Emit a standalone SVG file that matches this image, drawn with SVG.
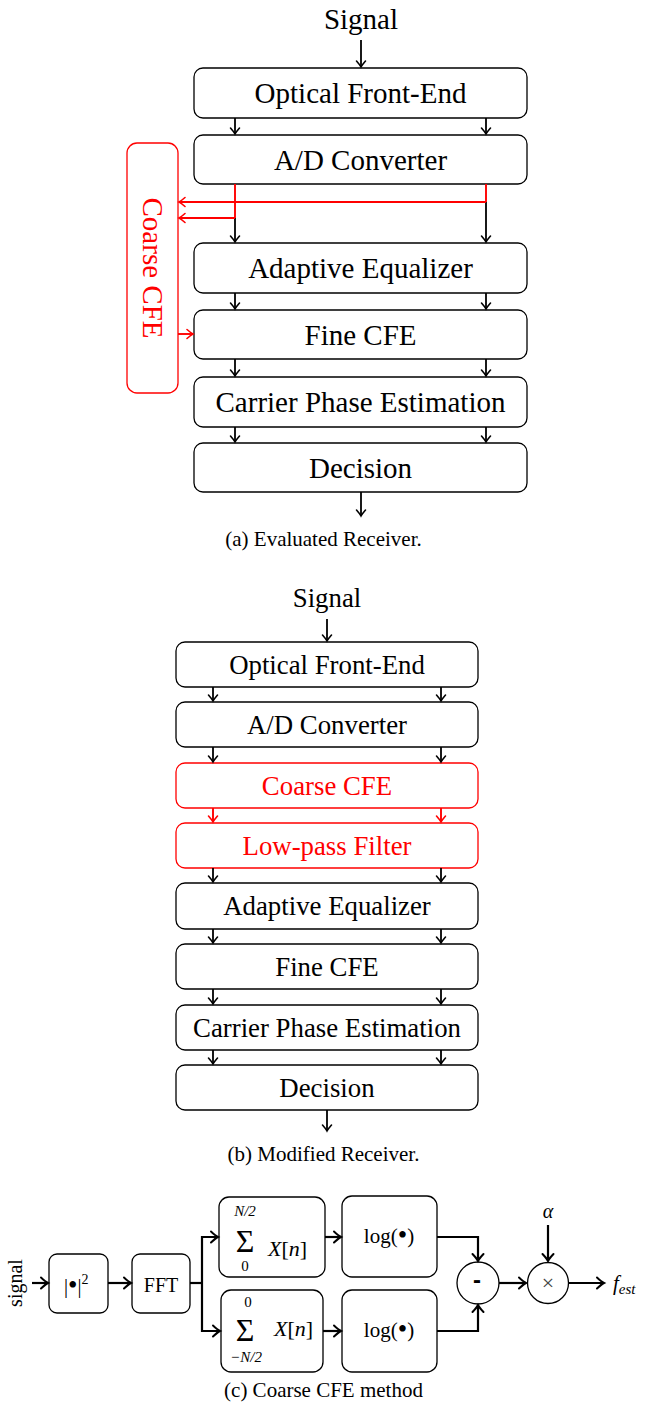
<svg xmlns="http://www.w3.org/2000/svg" width="645" height="1403" viewBox="0 0 645 1403">
<style>
  .bg { fill: #ffffff; }
  .box { fill: #ffffff; stroke: #000000; stroke-width: 1.3; }
  .rbox { fill: #ffffff; stroke: #ff0000; stroke-width: 1.3; }
  .lbl { font-family: "Liberation Serif", "Times New Roman", serif; fill: #000000; text-anchor: middle; }
  .la { font-size: 29px; }
  .lb { font-size: 26.8px; }
  .red { fill: #ff0000; }
  .cap { font-family: "Liberation Serif", "Times New Roman", serif; font-size: 21px; fill: #000000; text-anchor: middle; }
  .c { font-family: "Liberation Serif", "Times New Roman", serif; fill: #000000; }
  .it { font-style: italic; }
  .k { fill: none; stroke: #000000; stroke-width: 1.8; }
  .r { fill: none; stroke: #ff0000; stroke-width: 1.9; }
  .kc { fill: none; stroke: #000000; stroke-width: 2.2; }
</style>
<defs>
  <marker id="ak" markerUnits="userSpaceOnUse" markerWidth="14" markerHeight="14" refX="0" refY="0" viewBox="-8 -7 10 14" orient="auto" overflow="visible">
    <path d="M -6 -4.5 Q -2 -1 0 0 Q -2 1 -6 4.5" fill="none" stroke="#000000" stroke-width="1.6" stroke-linecap="round"/>
  </marker>
  <marker id="ar" markerUnits="userSpaceOnUse" markerWidth="14" markerHeight="14" refX="0" refY="0" viewBox="-8 -7 10 14" orient="auto" overflow="visible">
    <path d="M -6 -4.5 Q -2 -1 0 0 Q -2 1 -6 4.5" fill="none" stroke="#ff0000" stroke-width="1.6" stroke-linecap="round"/>
  </marker>
  <marker id="ac" markerUnits="userSpaceOnUse" markerWidth="16" markerHeight="16" refX="0" refY="0" viewBox="-9 -8 11 16" orient="auto" overflow="visible">
    <path d="M -7 -5.5 Q -2.5 -1.2 0 0 Q -2.5 1.2 -7 5.5" fill="none" stroke="#000000" stroke-width="2" stroke-linecap="round"/>
  </marker>
</defs>
<rect class="bg" x="0" y="0" width="645" height="1403"/>

<!-- ===== (a) Evaluated Receiver ===== -->
<g id="a-signal"><text class="lbl la" x="361" y="29">Signal</text></g>
<g id="a-ofe"><rect class="box" x="194" y="68" width="333" height="50" rx="9"/><text class="lbl la" x="360.5" y="103">Optical Front-End</text></g>
<g id="a-adc"><rect class="box" x="194" y="135" width="333" height="49" rx="9"/><text class="lbl la" x="360.5" y="169.5">A/D Converter</text></g>
<g id="a-ae"><rect class="box" x="194" y="243" width="333" height="50" rx="9"/><text class="lbl la" x="360.5" y="278">Adaptive Equalizer</text></g>
<g id="a-fine"><rect class="box" x="194" y="310" width="333" height="49" rx="9"/><text class="lbl la" x="360.5" y="344.5">Fine CFE</text></g>
<g id="a-cpe"><rect class="box" x="194" y="377" width="333" height="50" rx="9"/><text class="lbl la" x="360.5" y="412">Carrier Phase Estimation</text></g>
<g id="a-dec"><rect class="box" x="194" y="443" width="333" height="49" rx="9"/><text class="lbl la" x="360.5" y="477.5">Decision</text></g>
<g id="a-coarse"><rect class="rbox" x="127" y="143" width="51" height="250" rx="10"/><text class="lbl la red" transform="translate(143,268) rotate(90)" x="0" y="0">Coarse CFE</text></g>
<g id="a-caption"><text class="cap" x="323.5" y="546">(a) Evaluated Receiver.</text></g>

<g id="a-connectors">
  <line class="k" x1="361" y1="40" x2="361" y2="67" marker-end="url(#ak)"/>
  <line class="k" x1="235" y1="118" x2="235" y2="134" marker-end="url(#ak)"/>
  <line class="k" x1="486" y1="118" x2="486" y2="134" marker-end="url(#ak)"/>
  <line class="r" x1="235" y1="184" x2="235" y2="218"/>
  <line class="r" x1="486" y1="184" x2="486" y2="202"/>
  <line class="k" x1="235" y1="218" x2="235" y2="242" marker-end="url(#ak)"/>
  <line class="k" x1="486" y1="202" x2="486" y2="242" marker-end="url(#ak)"/>
  <line class="r" x1="486" y1="202" x2="179" y2="202" marker-end="url(#ar)"/>
  <line class="r" x1="235" y1="218" x2="179" y2="218" marker-end="url(#ar)"/>
  <line class="r" x1="178" y1="334" x2="193" y2="334" marker-end="url(#ar)"/>
  <line class="k" x1="235" y1="293" x2="235" y2="309" marker-end="url(#ak)"/>
  <line class="k" x1="486" y1="293" x2="486" y2="309" marker-end="url(#ak)"/>
  <line class="k" x1="235" y1="359" x2="235" y2="376" marker-end="url(#ak)"/>
  <line class="k" x1="486" y1="359" x2="486" y2="376" marker-end="url(#ak)"/>
  <line class="k" x1="235" y1="427" x2="235" y2="442" marker-end="url(#ak)"/>
  <line class="k" x1="486" y1="427" x2="486" y2="442" marker-end="url(#ak)"/>
  <line class="k" x1="361" y1="492" x2="361" y2="516" marker-end="url(#ak)"/>
</g>

<!-- ===== (b) Modified Receiver ===== -->
<g id="b-signal"><text class="lbl lb" x="327" y="607">Signal</text></g>
<g id="b-ofe"><rect class="box" x="176" y="642" width="302" height="45" rx="9"/><text class="lbl lb" x="327" y="673.5">Optical Front-End</text></g>
<g id="b-adc"><rect class="box" x="176" y="702" width="302" height="45" rx="9"/><text class="lbl lb" x="327" y="733.5">A/D Converter</text></g>
<g id="b-coarse"><rect class="rbox" x="176" y="763" width="302" height="45" rx="9"/><text class="lbl lb red" x="327" y="794.5">Coarse CFE</text></g>
<g id="b-lpf"><rect class="rbox" x="176" y="823" width="302" height="45" rx="9"/><text class="lbl lb red" x="327" y="854.5">Low-pass Filter</text></g>
<g id="b-ae"><rect class="box" x="176" y="883" width="302" height="46" rx="9"/><text class="lbl lb" x="327" y="915">Adaptive Equalizer</text></g>
<g id="b-fine"><rect class="box" x="176" y="944" width="302" height="45" rx="9"/><text class="lbl lb" x="327" y="975.5">Fine CFE</text></g>
<g id="b-cpe"><rect class="box" x="176" y="1005" width="302" height="45" rx="9"/><text class="lbl lb" x="327" y="1036.5">Carrier Phase Estimation</text></g>
<g id="b-dec"><rect class="box" x="176" y="1065" width="302" height="45" rx="9"/><text class="lbl lb" x="327" y="1096.5">Decision</text></g>
<g id="b-caption"><text class="cap" x="323.5" y="1161">(b) Modified Receiver.</text></g>

<g id="b-connectors">
  <line class="k" x1="327" y1="619" x2="327" y2="641" marker-end="url(#ak)"/>
  <line class="k" x1="213" y1="687" x2="213" y2="701" marker-end="url(#ak)"/>
  <line class="k" x1="441" y1="687" x2="441" y2="701" marker-end="url(#ak)"/>
  <line class="k" x1="213" y1="747" x2="213" y2="762" marker-end="url(#ak)"/>
  <line class="k" x1="441" y1="747" x2="441" y2="762" marker-end="url(#ak)"/>
  <line class="r" x1="213" y1="808" x2="213" y2="822" marker-end="url(#ar)"/>
  <line class="r" x1="441" y1="808" x2="441" y2="822" marker-end="url(#ar)"/>
  <line class="k" x1="213" y1="868" x2="213" y2="882" marker-end="url(#ak)"/>
  <line class="k" x1="441" y1="868" x2="441" y2="882" marker-end="url(#ak)"/>
  <line class="k" x1="213" y1="929" x2="213" y2="943" marker-end="url(#ak)"/>
  <line class="k" x1="441" y1="929" x2="441" y2="943" marker-end="url(#ak)"/>
  <line class="k" x1="213" y1="989" x2="213" y2="1004" marker-end="url(#ak)"/>
  <line class="k" x1="441" y1="989" x2="441" y2="1004" marker-end="url(#ak)"/>
  <line class="k" x1="213" y1="1050" x2="213" y2="1064" marker-end="url(#ak)"/>
  <line class="k" x1="441" y1="1050" x2="441" y2="1064" marker-end="url(#ak)"/>
  <line class="k" x1="327" y1="1110" x2="327" y2="1131" marker-end="url(#ak)"/>
</g>

<!-- ===== (c) Coarse CFE method ===== -->
<g id="c-signal"><text class="c" font-size="20" text-anchor="middle" transform="translate(22,1283) rotate(-90)" x="0" y="0">signal</text></g>
<g id="c-abs"><rect class="box" x="49" y="1254" width="59" height="59" rx="8"/><text class="c" font-size="20" x="64" y="1293">|<tspan font-size="27" dy="1">•</tspan><tspan dy="-1">|</tspan><tspan font-size="14" dy="-9">2</tspan></text></g>
<g id="c-fft"><rect class="box" x="132" y="1254" width="58" height="59" rx="8"/><text class="c" font-size="20" text-anchor="middle" x="161" y="1292">FFT</text></g>
<g id="c-sumtop"><rect class="box" x="219" y="1197" width="106" height="80" rx="10"/>
  <text class="c it" font-size="15" text-anchor="middle" x="245" y="1216">N/2</text>
  <text class="c" font-size="32" text-anchor="middle" x="245" y="1252">Σ</text>
  <text class="c" font-size="15" text-anchor="middle" x="245" y="1271">0</text>
  <text class="c" font-size="22" x="268" y="1256"><tspan font-style="italic">X</tspan>[<tspan font-style="italic">n</tspan>]</text>
</g>
<g id="c-sumbot"><rect class="box" x="221" y="1290" width="102" height="82" rx="10"/>
  <text class="c" font-size="15" text-anchor="middle" x="248" y="1307">0</text>
  <text class="c" font-size="32" text-anchor="middle" x="245" y="1341">Σ</text>
  <text class="c it" font-size="15" text-anchor="middle" x="246" y="1362">−N/2</text>
  <text class="c" font-size="22" x="274" y="1336"><tspan font-style="italic">X</tspan>[<tspan font-style="italic">n</tspan>]</text>
</g>
<g id="c-logtop"><rect class="box" x="342" y="1196" width="95" height="81" rx="10"/><text class="c" font-size="21" text-anchor="middle" x="389" y="1243">log(<tspan font-size="27" dy="1">•</tspan><tspan dy="-1">)</tspan></text></g>
<g id="c-logbot"><rect class="box" x="342" y="1290" width="95" height="82" rx="10"/><text class="c" font-size="21" text-anchor="middle" x="389" y="1337">log(<tspan font-size="27" dy="1">•</tspan><tspan dy="-1">)</tspan></text></g>
<g id="c-minus"><circle class="box" cx="478" cy="1283" r="21"/><text font-family="'Liberation Sans', Arial, sans-serif" font-weight="bold" font-size="24" text-anchor="middle" x="477" y="1288">-</text></g>
<g id="c-mult"><circle class="box" cx="548" cy="1283" r="20.5"/><text class="c" font-size="22" text-anchor="middle" x="548" y="1290" style="fill:#444444">×</text></g>
<g id="c-alpha"><text class="c it" font-size="20" text-anchor="middle" x="548" y="1218">α</text></g>
<g id="c-fest"><text class="c it" font-size="21" x="613" y="1290">f<tspan font-size="15" dy="4">est</tspan></text></g>
<g id="c-caption"><text class="cap" x="323.5" y="1397">(c) Coarse CFE method</text></g>

<g id="c-connectors">
  <line class="kc" x1="32" y1="1283" x2="48" y2="1283" marker-end="url(#ac)"/>
  <line class="kc" x1="108" y1="1283" x2="131" y2="1283" marker-end="url(#ac)"/>
  <polyline class="kc" points="190,1283 202,1283"/>
  <polyline class="kc" points="202,1283 202,1237 218,1237" marker-end="url(#ac)"/>
  <polyline class="kc" points="202,1283 202,1331 220,1331" marker-end="url(#ac)"/>
  <line class="kc" x1="325" y1="1237" x2="341" y2="1237" marker-end="url(#ac)"/>
  <line class="kc" x1="323" y1="1331" x2="341" y2="1331" marker-end="url(#ac)"/>
  <polyline class="kc" points="437,1237 478,1237 478,1261" marker-end="url(#ac)"/>
  <polyline class="kc" points="437,1331 478,1331 478,1305" marker-end="url(#ac)"/>
  <line class="kc" x1="499" y1="1283" x2="526" y2="1283" marker-end="url(#ac)"/>
  <line class="kc" x1="548" y1="1225" x2="548" y2="1261" marker-end="url(#ac)"/>
  <line class="kc" x1="569" y1="1283" x2="604" y2="1283" marker-end="url(#ac)"/>
</g>
</svg>
